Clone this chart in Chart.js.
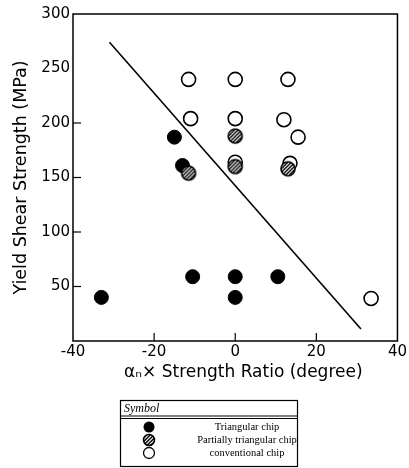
<!DOCTYPE html>
<html>
<head>
<meta charset="utf-8">
<script src="https://cdn.jsdelivr.net/npm/chart.js@4.4.1/dist/chart.umd.min.js"></script>
<style>
  html, body { margin: 0; padding: 0; background: #fff; }
  #wrap { width: 409px; height: 468px; position: relative; }
</style>
</head>
<body>
<div id="wrap"><canvas id="shearChart"></canvas></div>
<script>
// values
var xTicks = [-40, -20, 0, 20, 40];
var yTicks = [50, 100, 150, 200, 250, 300];

var triangularX = [-33, -10.5, 0, 0, 10.5, -15, -13];
var triangularY = [40, 59, 59, 40, 59, 187, 161];

var partialX = [-11.5, 0, 0, 13];
var partialY = [154, 188, 160, 158];

var conventionalX = [-11.5, 0, 13, -11, 0, 12, 15.5, 33.5, 0, 13.5];
var conventionalY = [240, 240, 240, 204, 204, 203, 187, 39, 164, 163];

var boundaryX = [-31, 31];
var boundaryY = [274, 11];

var legendLabels = ["Triangular chip", "Partially triangular chip", "conventional chip"];

function toPoints(xs, ys) {
    let pts = [];
    xs.forEach(function (x, i) { pts.push({ x: x, y: ys[i] }); });
    return pts;
}

// hatched circle, used for the markers and the legend
function drawHatched(ctx, cx, cy, r) {
    ctx.save();
    ctx.beginPath();
    ctx.arc(cx, cy, r, 0, Math.PI * 2);
    ctx.fillStyle = "#fff";
    ctx.fill();
    ctx.clip();
    ctx.strokeStyle = "#000";
    ctx.lineWidth = 1.4;
    for (let d = -2 * r; d <= 2 * r; d += 3.6) {
        ctx.beginPath();
        ctx.moveTo(cx + d - r, cy + r);
        ctx.lineTo(cx + d + r, cy - r);
        ctx.stroke();
    }
    ctx.restore();
    ctx.beginPath();
    ctx.arc(cx, cy, r, 0, Math.PI * 2);
    ctx.lineWidth = 1.6;
    ctx.strokeStyle = "#000";
    ctx.stroke();
}

var hatchImg = document.createElement("canvas");
hatchImg.width = 18;
hatchImg.height = 18;
drawHatched(hatchImg.getContext("2d"), 9, 9, 7);

var frameAndLegend = {
    id: "frameAndLegend",
    afterDraw: function (chart) {
        const ctx = chart.ctx;
        const a = chart.chartArea;
        const xs = chart.scales.x;
        const ys = chart.scales.y;
        ctx.save();
        ctx.strokeStyle = "#000";
        ctx.lineWidth = 1.5;
        ctx.strokeRect(a.left, a.top, a.right - a.left, a.bottom - a.top);
        // inward ticks
        ctx.lineWidth = 1.2;
        [-20, 0, 20].forEach(function (v) {
            let px = xs.getPixelForValue(v);
            ctx.beginPath();
            ctx.moveTo(px, a.bottom);
            ctx.lineTo(px, a.bottom - 8);
            ctx.stroke();
        });
        [50, 100, 150, 200].forEach(function (v) {
            let py = ys.getPixelForValue(v);
            ctx.beginPath();
            ctx.moveTo(a.left, py);
            ctx.lineTo(a.left + 8, py);
            ctx.stroke();
        });

        // symbol table below the chart
        const bx = 120.5, by = 400.5, bw = 177, bh = 66;
        ctx.lineWidth = 1.2;
        ctx.strokeRect(bx, by, bw, bh);
        ctx.beginPath();
        ctx.moveTo(bx, 416); ctx.lineTo(bx + bw, 416);
        ctx.moveTo(bx, 418.5); ctx.lineTo(bx + bw, 418.5);
        ctx.stroke();
        ctx.fillStyle = "#000";
        ctx.font = "italic 12px 'Liberation Serif'";
        ctx.textAlign = "left";
        ctx.textBaseline = "middle";
        ctx.fillText("Symbol", 124, 408.5);

        ctx.font = "10.5px 'Liberation Serif'";
        ctx.textAlign = "center";
        const rowsY = [427, 440, 453];
        legendLabels.forEach(function (lbl, i) {
            const sy = rowsY[i];
            if (i === 0) {
                ctx.beginPath();
                ctx.arc(149, sy, 5.5, 0, Math.PI * 2);
                ctx.fillStyle = "#000";
                ctx.fill();
            } else if (i === 1) {
                drawHatched(ctx, 149, sy, 5.5);
            } else {
                ctx.beginPath();
                ctx.arc(149, sy, 5.5, 0, Math.PI * 2);
                ctx.lineWidth = 1.3;
                ctx.strokeStyle = "#000";
                ctx.stroke();
            }
            ctx.fillStyle = "#000";
            ctx.fillText(lbl, 247, sy + 0.5);
        });
        ctx.restore();
    }
};

var chartElement = document.getElementById("shearChart").getContext("2d");
var chartObject = new Chart(chartElement, {
    type: "scatter",
    data: {
        datasets: [{
            label: legendLabels[1],
            data: toPoints(partialX, partialY),
            pointStyle: hatchImg,
            pointRadius: 7,
            order: 0
        }, {
            label: legendLabels[0],
            data: toPoints(triangularX, triangularY),
            pointStyle: "circle",
            pointRadius: 7,
            backgroundColor: "#000",
            borderColor: "#000",
            borderWidth: 1,
            order: 1
        }, {
            label: legendLabels[2],
            data: toPoints(conventionalX, conventionalY),
            pointStyle: "circle",
            pointRadius: 7,
            backgroundColor: "#fff",
            borderColor: "#000",
            borderWidth: 1.6,
            order: 2
        }, {
            label: "boundary",
            type: "line",
            data: toPoints(boundaryX, boundaryY),
            showLine: true,
            borderColor: "#000",
            borderWidth: 1.6,
            pointRadius: 0,
            fill: false,
            order: 3
        }]
    },
    options: {
        responsive: true,
        maintainAspectRatio: false,
        animation: false,
        layout: { padding: { left: 0, right: 11, top: 14, bottom: 85 } },
        plugins: {
            legend: { display: false },
            tooltip: { enabled: false }
        },
        scales: {
            x: {
                type: "linear",
                min: -40,
                max: 40,
                afterFit: function (scale) { scale.height = 42; },
                afterBuildTicks: function (scale) {
                    scale.ticks = xTicks.map(function (v) { return { value: v }; });
                },
                grid: { display: false, drawTicks: false },
                border: { display: false },
                ticks: {
                    color: "#000",
                    padding: 2,
                    font: { family: "'DejaVu Sans'", size: 15 }
                },
                title: {
                    display: true,
                    text: "   \u03b1\u2099\u00d7 Strength Ratio (degree)",
                    color: "#000",
                    padding: { top: 0, bottom: 0 },
                    font: { family: "'DejaVu Sans'", size: 17, weight: "normal" }
                }
            },
            y: {
                type: "linear",
                min: 0,
                max: 300,
                afterFit: function (scale) { scale.width = 73; },
                afterBuildTicks: function (scale) {
                    scale.ticks = yTicks.map(function (v) { return { value: v }; });
                },
                grid: { display: false, drawTicks: false },
                border: { display: false },
                ticks: {
                    color: "#000",
                    padding: 3,
                    font: { family: "'DejaVu Sans'", size: 15 }
                },
                title: {
                    display: true,
                    text: "Yield Shear Strength (MPa)",
                    color: "#000",
                    padding: { top: 11, bottom: 0 },
                    font: { family: "'DejaVu Sans'", size: 17.5, weight: "normal" }
                }
            }
        }
    },
    plugins: [frameAndLegend]
});
chartObject.update();
</script>
</body>
</html>
